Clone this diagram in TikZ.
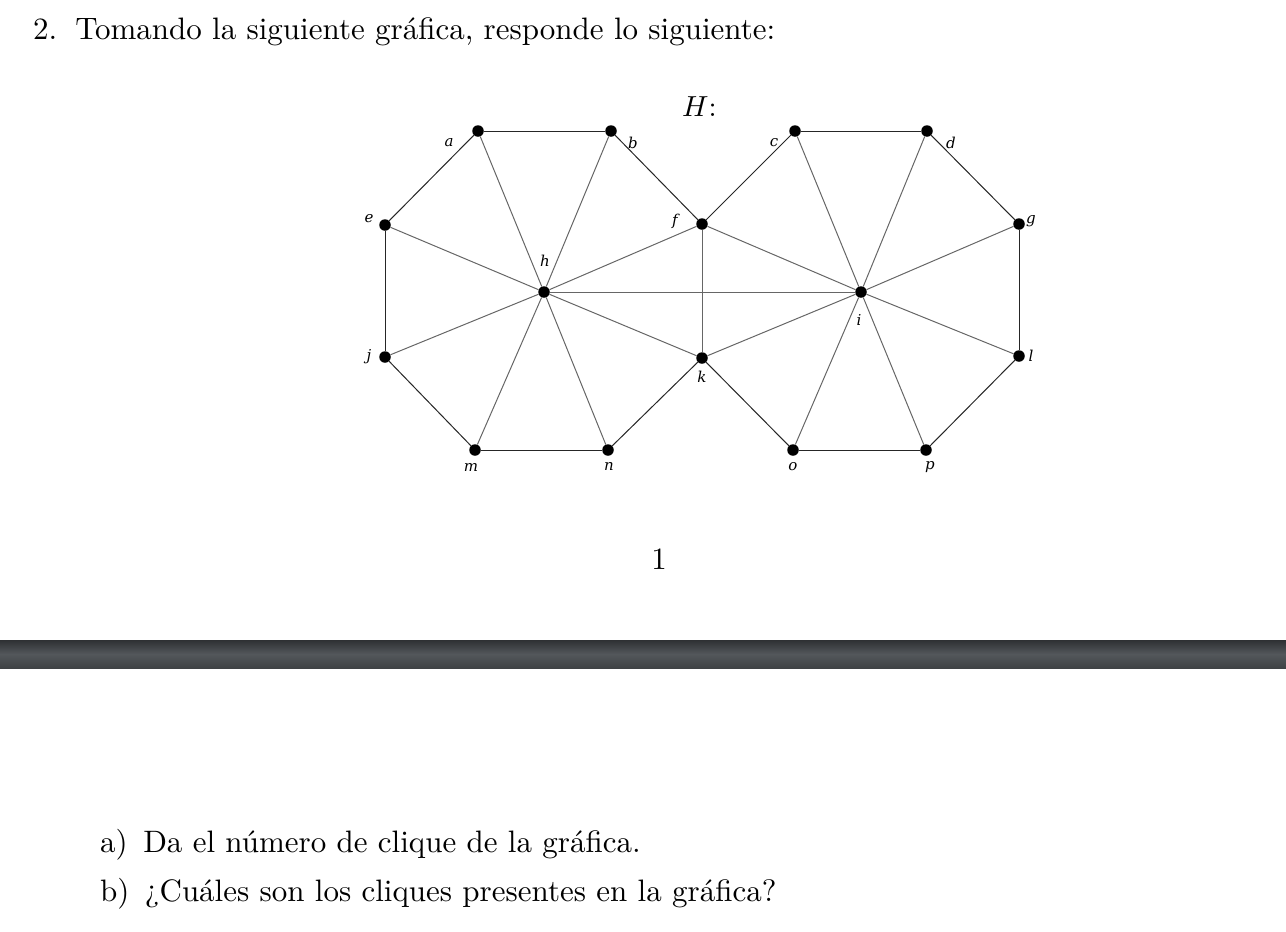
\documentclass[tikz,border=0pt]{standalone}
\usepackage{graphicx}
\usepackage{fontspec}
\newfontfamily\lblfont{DejaVu Serif}
\definecolor{bartop}{HTML}{2E3033}
\definecolor{barmid}{HTML}{53575B}
\definecolor{barbot}{HTML}{3F4245}
\begin{document}
\begin{tikzpicture}[x=1pt,y=-1pt,
  vtx/.style={circle,fill=black,inner sep=0pt,minimum size=11.5pt},
  lbl/.style={inner sep=0pt,font=\lblfont\itshape\fontsize{15}{17}\selectfont},
  spoke/.style={draw=black!60,line width=1pt},
  rim/.style={draw=black!85,line width=1pt},
  txt/.style={inner sep=0pt,anchor=base west}]
\useasboundingbox (0,0) rectangle (1286,932);
% gray bar
\shade[top color=bartop, bottom color=barbot, middle color=barmid] (0,640) rectangle (1286,668);
% texts
\node[txt] (t1) at (33,39) {\scalebox{3.1}{2.\hspace{5.8pt}Tomando la siguiente gr\'afica, responde lo siguiente:}};
\node[txt] (H) at (682,116) {\scalebox{2.9}{$H$:}};
\node[txt,anchor=base] (one) at (659,569) {\scalebox{3.1}{1}};
\node[txt] (qa) at (100,852) {\scalebox{3.1}{a)\hspace{5pt}Da el n\'umero de clique de la gr\'afica.}};
\node[txt] (qb) at (100,901) {\scalebox{3.1}{b)\hspace{5pt}¿Cu\'ales son los cliques presentes en la gr\'afica?}};
% vertices
\node[vtx] (a) at (478,131) {};
\node[vtx] (b) at (611,131) {};
\node[vtx] (c) at (795,131) {};
\node[vtx] (d) at (927,131) {};
\node[vtx] (e) at (385,225) {};
\node[vtx] (f) at (702,224) {};
\node[vtx] (g) at (1019,224) {};
\node[vtx] (h) at (544,292) {};
\node[vtx] (i) at (861,292) {};
\node[vtx] (j) at (385,357) {};
\node[vtx] (k) at (702,358) {};
\node[vtx] (l) at (1019,356) {};
\node[vtx] (m) at (475,450) {};
\node[vtx] (n) at (608,450) {};
\node[vtx] (o) at (793,450) {};
\node[vtx] (p) at (926,450) {};
% labels
\node[lbl] (la) at (449,143) {a};
\node[lbl] (lb) at (633,143) {b};
\node[lbl] (lc) at (774,143) {c};
\node[lbl] (ld) at (951,143) {d};
\node[lbl] (le) at (369,219) {e};
\node[lbl] (lf) at (675,221) {f};
\node[lbl] (lg) at (1031,221) {g};
\node[lbl] (lh) at (545,261) {h};
\node[lbl] (li) at (859,320) {i};
\node[lbl] (lj) at (369,357) {j};
\node[lbl] (lk) at (702,377) {k};
\node[lbl] (ll) at (1031,356) {l};
\node[lbl] (lm) at (471,467) {m};
\node[lbl] (ln) at (609,466) {n};
\node[lbl] (lo) at (793,467) {o};
\node[lbl] (lp) at (930,467) {p};
% edges
\draw[rim] (a) -- (b); \draw[rim] (c) -- (d); \draw[rim] (m) -- (n); \draw[rim] (o) -- (p);
\draw[rim] (e) -- (j); \draw[rim] (g) -- (l);
\draw[rim] (a) -- (e); \draw[rim] (b) -- (f); \draw[rim] (f) -- (c); \draw[rim] (d) -- (g);
\draw[rim] (l) -- (p); \draw[rim] (o) -- (k); \draw[rim] (k) -- (n); \draw[rim] (m) -- (j);
\draw[spoke] (h) -- (a); \draw[spoke] (h) -- (b); \draw[spoke] (h) -- (e); \draw[spoke] (h) -- (f);
\draw[spoke] (h) -- (j); \draw[spoke] (h) -- (m); \draw[spoke] (h) -- (n); \draw[spoke] (h) -- (k);
\draw[spoke] (h) -- (i);
\draw[spoke] (i) -- (c); \draw[spoke] (i) -- (d); \draw[spoke] (i) -- (g); \draw[spoke] (i) -- (f);
\draw[spoke] (i) -- (l); \draw[spoke] (i) -- (p); \draw[spoke] (i) -- (o); \draw[spoke] (i) -- (k);
\draw[spoke] (f) -- (k);
\end{tikzpicture}
\end{document}
